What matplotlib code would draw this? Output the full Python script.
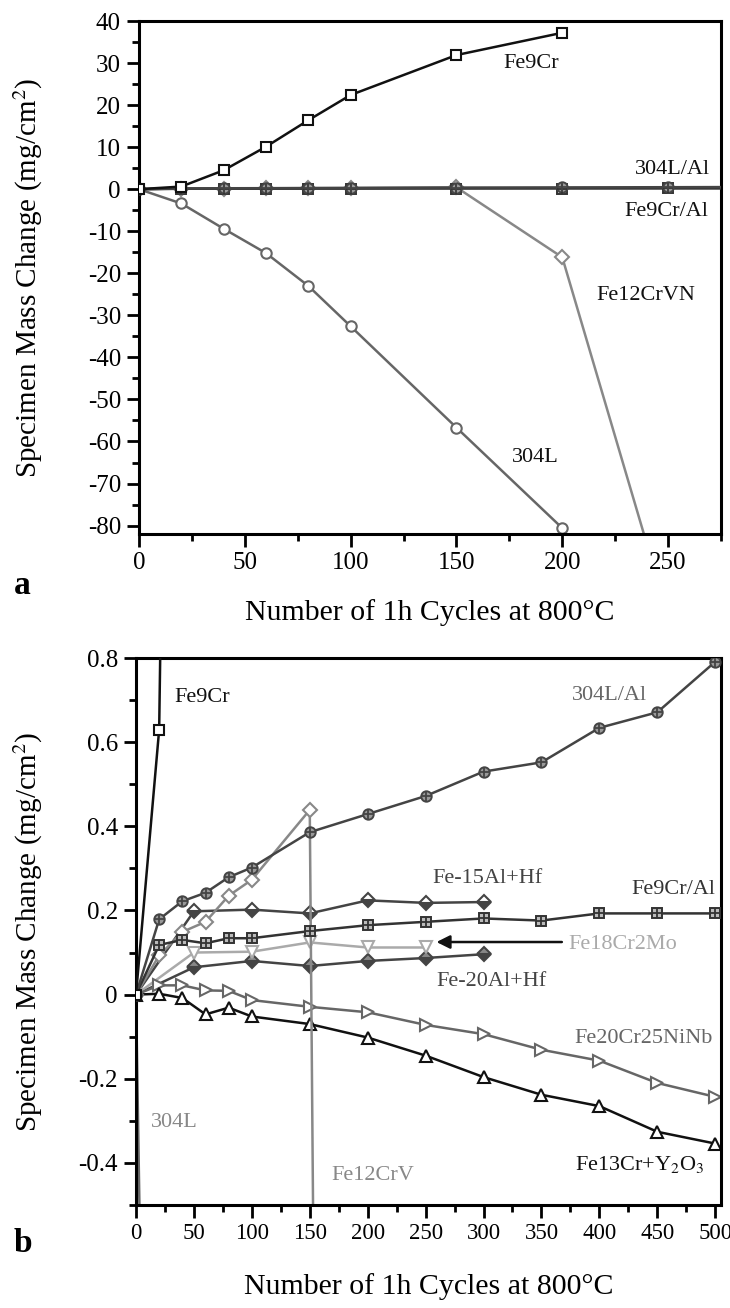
import numpy as np
import matplotlib
matplotlib.use("Agg")
import matplotlib.pyplot as plt
from matplotlib.ticker import MultipleLocator

plt.rcParams['font.family'] = ['Liberation Serif', 'DejaVu Serif']
plt.rcParams['mathtext.fontset'] = 'stix'
plt.rcParams['axes.unicode_minus'] = False

# ---- data ----
cyc_a = [0, 20, 40, 60, 80, 100, 150, 200]
fe9cr = [0, 0.63, 4.5, 10.1, 16.4, 22.4, 31.9, 37.2]
l304 = [0, -3.4, -9.4, -15.2, -23.0, -32.6, -56.7, -80.6]

cyc_vn = [0, 20, 40, 60, 80, 100, 150, 200, 250]
fe12crvn = [0, 0.093, 0.149, 0.173, 0.235, 0.273, 0.439, -16.2, -101.5]

cyc_al = [0, 20, 40, 60, 80, 100, 150, 200, 250, 300, 350, 400, 450, 500]
l304al = [0, 0.179, 0.222, 0.242, 0.279, 0.302, 0.386, 0.429, 0.472, 0.530, 0.552, 0.634, 0.671, 0.791]
fe9cral = [0, 0.118, 0.130, 0.122, 0.134, 0.134, 0.151, 0.165, 0.173, 0.181, 0.176, 0.193, 0.193, 0.193]
fe20cr25 = [0, 0.022, 0.022, 0.010, 0.009, -0.013, -0.029, -0.042, -0.072, -0.094, -0.131, -0.157, -0.210, -0.243]
fe13cr = [0, 0.002, -0.008, -0.047, -0.031, -0.052, -0.070, -0.102, -0.145, -0.196, -0.238, -0.265, -0.326, -0.354]

cyc_hf = [0, 50, 100, 150, 200, 250, 300]
fe15al = [0, 0.198, 0.202, 0.193, 0.224, 0.218, 0.220]
fe20al = [0, 0.065, 0.080, 0.068, 0.080, 0.087, 0.096]

cyc_mo = [0, 50, 100, 150, 200, 250]
fe18cr = [0, 0.100, 0.102, 0.124, 0.112, 0.112]

C_BLK = '#111111'
C_DK = '#444444'
C_MD = '#666666'
C_LT = '#888888'
C_XL = '#aaaaaa'

W, H = 730, 1308
fig = plt.figure(figsize=(W / 100, H / 100), dpi=100)
ax1 = fig.add_axes([139 / W, 1 - 534 / H, 582 / W, 513 / H])
ax2 = fig.add_axes([136 / W, 1 - 1205 / H, 585 / W, 547 / H])

ms = 7.5
lw = 1.8


def cross_line(ax, x, y, marker, color, face):
    ax.plot(x, y, color=color, lw=lw, marker=marker, ms=ms, mfc=face,
            mec=color, mew=1.4, zorder=3)
    ax.plot(x, y, ls='none', marker='+', ms=ms * 0.95, mec=color, mew=1.3,
            zorder=4)


def draw(ax, panel_b):
    # near-zero protected alloys
    cross_line(ax, cyc_al, fe9cral, 's', '#333333', '#bbbbbb')
    cross_line(ax, cyc_al, l304al, 'o', C_DK, '#999999')
    if panel_b:
        ax.plot(cyc_hf, fe15al, color=C_DK, lw=lw, marker='D', ms=ms, mec=C_DK,
                mfc=C_DK, fillstyle='bottom', markerfacecoloralt='white', mew=1.5)
        ax.plot(cyc_hf, fe20al, color=C_DK, lw=lw, marker='D', ms=ms, mec=C_DK,
                mfc=C_DK, fillstyle='bottom', markerfacecoloralt='#888888', mew=1.5)
        ax.plot(cyc_mo, fe18cr, color=C_XL, lw=lw, marker='v', ms=ms + 0.5,
                mfc='white', mec=C_XL, mew=1.5)
        ax.plot(cyc_al, fe20cr25, color=C_MD, lw=lw, marker='>', ms=ms + 0.5,
                mfc='white', mec=C_MD, mew=1.5)
        ax.plot(cyc_al, fe13cr, color=C_BLK, lw=lw, marker='^', ms=ms + 0.5,
                mfc='white', mec=C_BLK, mew=1.5)
    ax.plot(cyc_vn, fe12crvn, color=C_LT, lw=lw, marker='D', ms=ms,
            mfc='white', mec=C_LT, mew=1.5)
    ax.plot(cyc_a, l304, color=C_MD, lw=lw, marker='o', ms=ms,
            mfc='white', mec=C_MD, mew=1.5)
    ax.plot(cyc_a, fe9cr, color=C_BLK, lw=lw, marker='s', ms=ms,
            mfc='white', mec=C_BLK, mew=1.5, zorder=5)


def style(ax, xsize=18):
    for s in ax.spines.values():
        s.set_linewidth(2.2)
    ax.tick_params(which='both', direction='out', top=False, right=False,
                   labelsize=18, width=2.0, pad=4)
    ax.tick_params(axis='x', labelsize=xsize)
    ax.tick_params(which='major', length=9)
    ax.tick_params(which='minor', length=5)


draw(ax1, False)
ax1.set_xlim(0, 275)
ax1.set_ylim(-82, 40)
ax1.xaxis.set_major_locator(MultipleLocator(50))
ax1.xaxis.set_minor_locator(MultipleLocator(25))
ax1.yaxis.set_major_locator(MultipleLocator(10))
ax1.yaxis.set_minor_locator(MultipleLocator(5))
style(ax1)
ax1.set_ylabel('Specimen Mass Change (mg/cm$^2$)', fontsize=21)
ax1.yaxis.set_label_coords(-0.1615, 0.5)
ax1.set_xlabel('Number of 1h Cycles at 800°C', fontsize=21.5)
ax1.xaxis.set_label_coords(0.5, -0.127)

tk = dict(fontsize=16, va='center')
ax1.text(172, 29.8, 'Fe9Cr', color=C_BLK, **tk)
ax1.text(270, 4.8, '304L/Al', color=C_BLK, ha='right', **tk)
ax1.text(269, -5.2, 'Fe9Cr/Al', color=C_BLK, ha='right', **tk)
ax1.text(216, -25.2, 'Fe12CrVN', color=C_BLK, **tk)
ax1.text(176, -63.8, '304L', color=C_BLK, **tk)

draw(ax2, True)
ax2.set_xlim(0, 505)
ax2.set_ylim(-0.5, 0.8)
ax2.xaxis.set_major_locator(MultipleLocator(50))
ax2.xaxis.set_minor_locator(MultipleLocator(25))
ax2.yaxis.set_minor_locator(MultipleLocator(0.1))
ax2.set_yticks([-0.4, -0.2, 0, 0.2, 0.4, 0.6, 0.8])
ax2.set_yticklabels(['-0.4', '-0.2', '0', '0.2', '0.4', '0.6', '0.8'])
style(ax2, xsize=16.5)
ax2.set_ylabel('Specimen Mass Change (mg/cm$^2$)', fontsize=21)
ax2.yaxis.set_label_coords(-0.1556, 0.5)
ax2.set_xlabel('Number of 1h Cycles at 800°C', fontsize=21.5)
ax2.xaxis.set_label_coords(0.5, -0.124)

ax2.text(33, 0.706, 'Fe9Cr', color=C_BLK, **tk)
ax2.text(376, 0.71, '304L/Al', color=C_MD, **tk)
ax2.text(256, 0.277, 'Fe-15Al+Hf', color=C_DK, **tk)
ax2.text(500, 0.249, 'Fe9Cr/Al', color='#333333', ha='right', **tk)
ax2.text(373, 0.12, 'Fe18Cr2Mo', color=C_XL, **tk)
ax2.text(259, 0.03, 'Fe-20Al+Hf', color=C_DK, **tk)
ax2.text(498, -0.104, 'Fe20Cr25NiNb', color=C_MD, ha='right', **tk)
ax2.text(491, -0.403, 'Fe13Cr+Y$_2$O$_3$', color=C_BLK, ha='right', **tk)
ax2.text(13, -0.303, '304L', color=C_LT, **tk)
ax2.text(169, -0.431, 'Fe12CrV', color=C_LT, **tk)
ax2.annotate('', xy=(257, 0.125), xytext=(370, 0.125),
             arrowprops=dict(arrowstyle='-|>', color=C_BLK, lw=1.8,
                             mutation_scale=20))

fig.text(14 / W, 1 - 585 / H, 'a', fontsize=24, fontweight='bold', va='center')
fig.text(14 / W, 1 - 1243 / H, 'b', fontsize=24, fontweight='bold', va='center')

fig.savefig('out.png', dpi=100)
